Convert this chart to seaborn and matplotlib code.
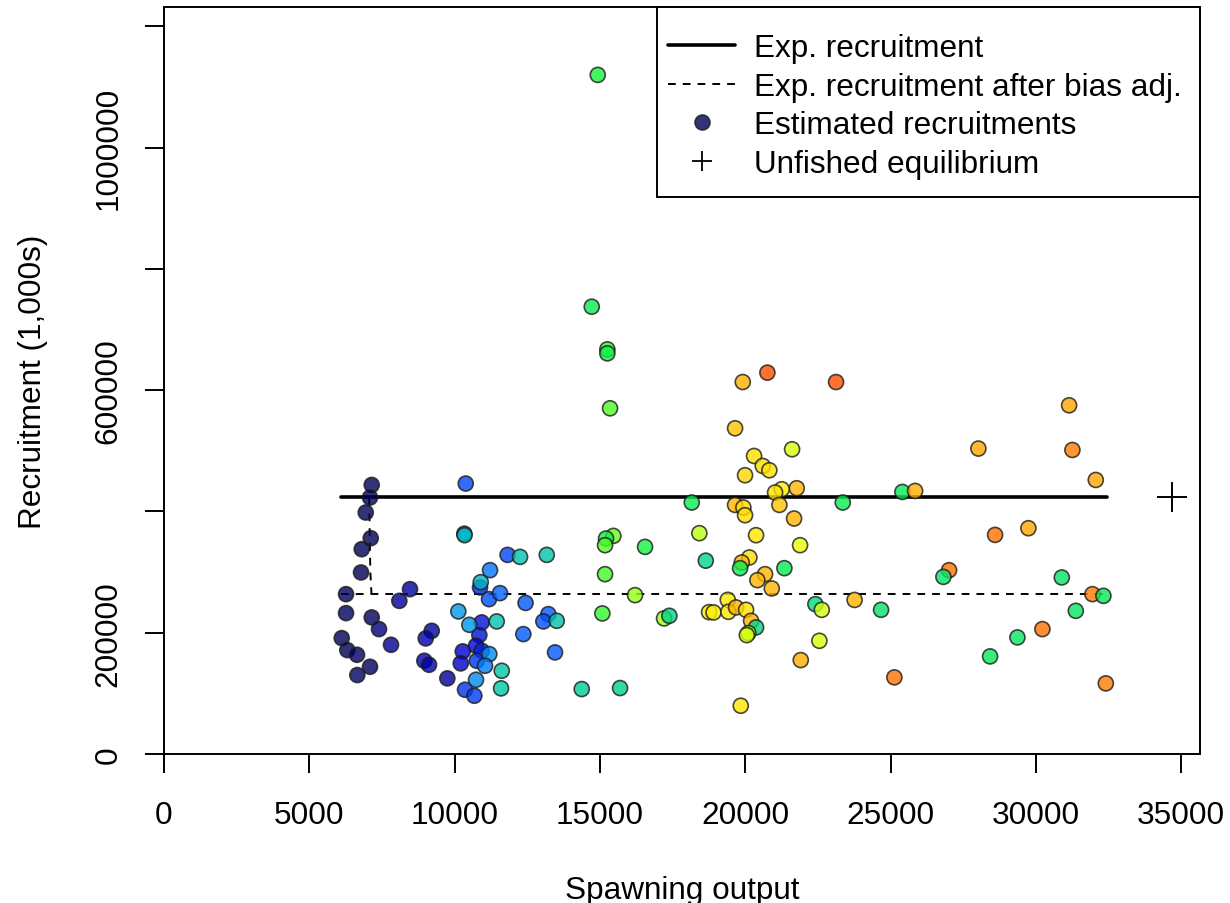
import numpy as np
import pandas as pd
import matplotlib
matplotlib.use("Agg")
import matplotlib.pyplot as plt
from matplotlib.colors import ListedColormap
from matplotlib.lines import Line2D
from matplotlib.patches import Rectangle
import seaborn as sns

# ---------------- data ----------------
spawning_output = [
    7148, 7089, 6942, 7114, 6804, 6780, 6264, 6264, 7148, 6116, 6308, 6642, 7089, 6652,
    7399, 7812, 8466, 8098, 9213, 9006, 8958, 9120, 9750,
    10280, 10211, 10851, 10934, 10737, 10934, 10762, 10359, 10679, 10383, 10875, 10899,
    11185, 11563, 11219, 11822, 12252, 13171, 12441, 13226, 13054, 13515, 12365, 13456,
    10128, 10507, 11450, 11195, 11047, 11622, 10737, 11598, 10335, 10342, 14375, 15693,
    14926, 14719, 15256, 15256, 15349, 15463, 15211, 15177, 16554, 15177, 15084, 16209,
    17208, 17390, 18161, 18422, 18643, 18756, 18911, 19400, 19420, 19685, 20030, 20202,
    20374, 20109, 20054, 19916, 20763, 23127, 19651, 21613, 20305, 20604, 20831, 19995,
    21774, 21258, 21028, 19651, 19937, 19995, 21176, 23357, 21681, 20374, 21888, 20143,
    19881, 19823, 21348, 20683, 20418, 20914, 22415, 22635, 23764, 22552, 21912, 19847,
    31146, 28024, 31259, 32064, 25409, 25846, 28599, 29745, 27016, 26820, 30894, 31948,
    32326, 24676, 31376, 30227, 29367, 28427, 25133, 32409,
]
recruitment = [
    443650, 422890, 398180, 355840, 337720, 299330, 263580, 232280, 225200, 191100, 171330,
    163590, 143820, 130150,
    205930, 180060, 271820, 252550, 203120, 190600, 153700, 147110, 124710,
    169190, 149420, 196040, 216960, 178410, 170180, 153700, 105930, 96040, 445950, 274620,
    283350, 255350, 265230, 303120, 328330, 325030, 328330, 249090, 230640, 218610, 219600,
    197690, 167540, 235090, 213010, 218610, 164740, 145470, 137230, 122400, 108230, 363250,
    360780, 107080, 108730,
    1119740, 737540, 667200, 660600, 570000, 359630, 355340, 344310, 341510, 296530, 231790,
    261940, 223550, 227840, 414650, 364080, 318770, 233930, 233440, 254190, 234430, 241670,
    237720, 219600, 208720, 199340, 196040, 613330, 628810, 613330, 537050, 502460, 491420,
    474950, 467860, 459620, 438210, 436560, 431130, 410700, 406410, 393730, 410700, 414650,
    388290, 360780, 344310, 324040, 315810, 306420, 306420, 296530, 286650, 272970, 247110,
    237720, 254030, 186650, 154860, 79570,
    574940, 503610, 501300, 451880, 432110, 433760, 361270, 372310, 303120, 292080, 291100,
    263580, 260780, 237720, 236070, 205930, 192250, 160950, 126360, 116470,
]
# position of each point's colour on the year colour ramp (0 = first year, 1 = last)
year_colour = [
    0.03, 0.03, 0.03, 0.03, 0.03, 0.03, 0.03, 0.04, 0.04, 0.03, 0.03, 0.04, 0.04, 0.05,
    0.07, 0.09, 0.10, 0.10, 0.11, 0.11, 0.12, 0.11, 0.10,
    0.15, 0.15, 0.17, 0.17, 0.16, 0.18, 0.20, 0.20, 0.21, 0.22, 0.18, 0.36,
    0.23, 0.25, 0.27, 0.22, 0.38, 0.39, 0.24, 0.24, 0.23, 0.38, 0.24, 0.24,
    0.32, 0.31, 0.38, 0.30, 0.28, 0.39, 0.30, 0.39, 0.33, 0.36, 0.40, 0.41,
    0.50, 0.48, 0.53, 0.49, 0.55, 0.56, 0.49, 0.55, 0.50, 0.54, 0.53, 0.58,
    0.58, 0.42, 0.48, 0.60, 0.42, 0.72, 0.70, 0.72, 0.74, 0.84, 0.75, 0.84,
    0.42, 0.60, 0.62, 0.85, 0.97, 0.97, 0.82, 0.62, 0.76, 0.76, 0.75, 0.78,
    0.84, 0.72, 0.75, 0.84, 0.76, 0.76, 0.82, 0.48, 0.84, 0.74, 0.64, 0.76,
    0.84, 0.48, 0.48, 0.84, 0.84, 0.84, 0.43, 0.62, 0.84, 0.62, 0.85, 0.74,
    0.86, 0.86, 0.92, 0.86, 0.47, 0.85, 0.93, 0.86, 0.93, 0.45, 0.45, 0.92,
    0.47, 0.45, 0.46, 0.93, 0.46, 0.47, 0.93, 0.92,
]

exp_rec_S = [6080, 32450]
exp_rec_R = [423400, 423400]
bias_ramp_S = [7060, 7100, 7140]
bias_ramp_R = [421000, 300000, 263600]
bias_adj_S = [6080, 32450]
bias_adj_R = [263600, 263600]
unfished_S = [34690]
unfished_R = [423400]

x_ticks = [0, 5000, 10000, 15000, 20000, 25000, 30000, 35000]
y_ticks = [0, 200000, 400000, 600000, 800000, 1000000, 1200000]
y_ticklabels = ["0", "200000", "", "600000", "", "1000000", ""]

legend_labels = ["Exp. recruitment", "Exp. recruitment after bias adj.",
                 "Estimated recruitments", "Unfished equilibrium"]

# ---------------- colour ramp (r4ss rich.colors.short) ----------------
g_x = np.linspace(0, 1, 256)
g_r = 1 / (1 + np.exp(20 - 35 * g_x))
g_g = np.clip(-0.8 + 6 * g_x - 5 * g_x ** 2, 0, 1)
g_b = np.exp(-0.5 * ((g_x - 0.25) / 0.15) ** 2)
rich_cmap = ListedColormap(np.column_stack([g_r, g_g, g_b]))

df = pd.DataFrame({"S": spawning_output, "R": recruitment, "yr": year_colour})

# ---------------- figure ----------------
sns.set_theme(style="ticks")
plt.rcParams["font.family"] = ["Liberation Sans", "DejaVu Sans"]
plt.rcParams["text.color"] = "black"
plt.rcParams["axes.labelcolor"] = "black"
plt.rcParams["xtick.color"] = "black"
plt.rcParams["ytick.color"] = "black"
FS = 22.7

fig = plt.figure(figsize=(12.3, 9.04), dpi=100)
fig.patch.set_facecolor("white")
ax = fig.add_axes([164 / 1230, 1 - 755 / 904, (1200 - 164) / 1230, (755 - 8) / 904])
ax.set_facecolor("white")

sns.lineplot(x=exp_rec_S, y=exp_rec_R, color="black", lw=2.6, ax=ax,
             estimator=None, sort=False, zorder=2)
ax.plot(bias_ramp_S, bias_ramp_R, color="black", lw=1.4, ls=(0, (4.0, 3.6)), zorder=2)
ax.plot(bias_adj_S, bias_adj_R, color="black", lw=1.4, ls=(0, (4.0, 3.6)), zorder=2)

sns.scatterplot(data=df, x="S", y="R", hue="yr", palette=rich_cmap, hue_norm=(0, 1),
                s=117, alpha=0.8, edgecolor="#1c1c1c", linewidth=1.2, legend=False,
                ax=ax, zorder=3)

ax.plot(unfished_S, unfished_R, ls="none", marker="+", ms=21.5, mew=1.4,
        color="black", zorder=4)

ax.set_xlim(0, 35650)
ax.set_ylim(0, 1231700)
ax.set_xticks(x_ticks)
ax.set_xticklabels([str(v) for v in x_ticks])
ax.set_yticks(y_ticks)
ax.set_yticklabels(y_ticklabels, rotation=90, va="center")
ax.set_xlabel("")
ax.set_ylabel("")
for sp in ax.spines.values():
    sp.set_visible(True)
    sp.set_color("black")
    sp.set_linewidth(1.4)
ax.tick_params(axis="both", direction="out", length=13.7, width=1.4, colors="black",
               labelcolor="black", labelsize=FS)
ax.tick_params(axis="x", pad=19.5)
ax.tick_params(axis="y", pad=15.6)

fig.text(682 / 1230, (904 - 899) / 904, "Spawning output", fontsize=FS,
         color="black", ha="center", va="baseline")
fig.text(41.5 / 1230, 1 - 381.5 / 904, "Recruitment (1,000s)", fontsize=FS,
         color="black", rotation=90, rotation_mode="anchor", ha="center", va="baseline")

# legend box
ax.add_patch(Rectangle(((657 - 164) / 1036, (755 - 198) / 747), 1 - (657 - 164) / 1036,
                       (198 - 8) / 747, transform=ax.transAxes, facecolor="white",
                       edgecolor="black", lw=1.4, zorder=5, clip_on=False))
first_col = rich_cmap(0.03)
handles = [
    Line2D([], [], color="black", lw=2.6),
    Line2D([], [], color="black", lw=1.4, ls=(0, (4.0, 3.6))),
    Line2D([], [], ls="none", marker="o", ms=10.8, mfc=(*first_col[:3], 0.8),
           mec=(0.11, 0.11, 0.11, 0.8), mew=1.2),
    Line2D([], [], ls="none", marker="+", ms=15, mew=1.3, color="black"),
]
leg = ax.legend(handles, legend_labels, loc="upper left",
                bbox_to_anchor=((668 - 164) / 1036, (755 - 34) / 747),
                frameon=False, fontsize=FS, borderpad=0, borderaxespad=0,
                handlelength=2.13, handletextpad=0.6, labelspacing=0.273)
for txt in leg.get_texts():
    txt.set_color("black")
leg.set_zorder(6)

fig.savefig("out.png", dpi=100, facecolor="white")
